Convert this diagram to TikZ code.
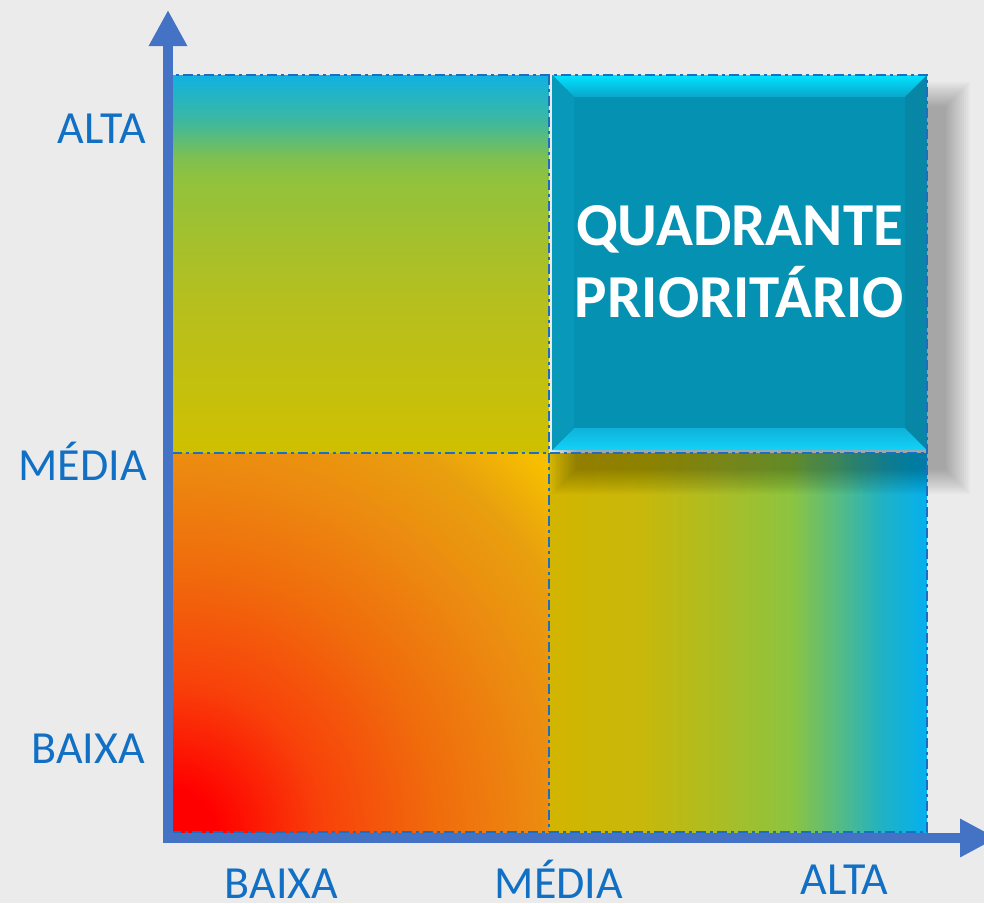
\documentclass[tikz,border=0pt]{standalone}
\usepackage{fontspec}
\setmainfont{Carlito}
\usetikzlibrary{arrows.meta}
\definecolor{bgc}{HTML}{EBEBEB}
\definecolor{axisc}{HTML}{4472C4}
\definecolor{dashc}{HTML}{1B6EC2}
\definecolor{labelc}{HTML}{1170C4}
\definecolor{facec}{HTML}{0591B2}
% top-left vertical
\definecolor{tlA}{HTML}{CFC000}
\definecolor{tlB}{HTML}{B6BF1E}
\definecolor{tlC}{HTML}{92C23C}
\definecolor{tlD}{HTML}{7EC050}
\definecolor{tlE}{HTML}{3CB8A0}
\definecolor{tlF}{HTML}{10B2E2}
\pgfdeclareverticalshading{tlshade}{100bp}{color(0bp)=(tlA); color(25bp)=(tlA); color(45bp)=(tlB); color(61bp)=(tlC); color(64bp)=(tlD); color(69bp)=(tlE); color(75bp)=(tlF); color(100bp)=(tlF)}
% bottom-right horizontal
\definecolor{brA}{HTML}{D2B500}
\definecolor{brB}{HTML}{C8B80A}
\definecolor{brC}{HTML}{B0BC20}
\definecolor{brD}{HTML}{8CC440}
\definecolor{brE}{HTML}{58BC80}
\definecolor{brF}{HTML}{20B2C4}
\definecolor{brG}{HTML}{04B0F0}
\pgfdeclarehorizontalshading{brshade}{100bp}{color(0bp)=(brA); color(25bp)=(brA); color(37bp)=(brB); color(46bp)=(brC); color(57bp)=(brD); color(63bp)=(brE); color(69bp)=(brF); color(75bp)=(brG); color(100bp)=(brG)}
% bottom-left radial from corner
\definecolor{blA}{HTML}{FF0000}
\definecolor{blB}{HTML}{F8420A}
\definecolor{blC}{HTML}{F06A0C}
\definecolor{blD}{HTML}{EC8A10}
\definecolor{blE}{HTML}{E8A00E}
\definecolor{blF}{HTML}{F6BE00}
\pgfdeclareradialshading{blshade}{\pgfpointorigin}{color(0bp)=(blA); color(2bp)=(blA); color(7bp)=(blB); color(12bp)=(blC); color(17bp)=(blD); color(21bp)=(blE); color(24bp)=(blF); color(50bp)=(blF)}
% bevels
\definecolor{bvTa}{HTML}{00E2FF}
\definecolor{bvTb}{HTML}{0AA6CA}
\definecolor{bvBa}{HTML}{0FB2DA}
\definecolor{bvBb}{HTML}{12D2F8}
\definecolor{bvL}{HTML}{0898BA}
\definecolor{bvR}{HTML}{0786A6}
\tikzset{
  axisline/.style={draw=axisc, line width=10pt},
  quadline/.style={draw=dashc, line width=2.5pt, dash pattern=on 10pt off 4pt on 3pt off 4pt},
  lbl/.style={text=labelc, font=\fontsize{46}{50}\selectfont, inner sep=0pt},
  ttl/.style={text=white, font=\bfseries\fontsize{61}{70}\selectfont, inner sep=0pt, anchor=base}
}
\begin{document}
\begin{tikzpicture}[x=1pt,y=-1pt]
\fill[bgc] (0,0) rectangle (984,903);
\useasboundingbox (0,0) rectangle (984,903);
\clip (0,0) rectangle (984,903);
% quadrants
\shade[shading=tlshade] (172,75) rectangle (549,453);
\shade[shading=brshade] (549,453) rectangle (927,832);
\begin{scope}
\clip (172,453) rectangle (549,832);
\shade[shading=blshade] (172,832) circle (540);
\end{scope}
% shadow of the priority box
\foreach \d in {0,2,...,24}{
  \fill[black, opacity=0.024] (576-\d,106-\d) rectangle (946+\d,470+\d);
}
% priority box with bevel
\fill[facec] (552,75) rectangle (927,450);
\shade[top color=bvTa, bottom color=bvTb] (552,75) -- (927,75) -- (905,97) -- (574,97) -- cycle;
\shade[top color=bvBa, bottom color=bvBb] (552,450) -- (927,450) -- (905,428) -- (574,428) -- cycle;
\fill[bvL] (552,75) -- (574,97) -- (574,428) -- (552,450) -- cycle;
\fill[bvR] (927,75) -- (905,97) -- (905,428) -- (927,450) -- cycle;
\node[ttl] (t1) at (739.5,245) {QUADRANTE};
\node[ttl] (t2) at (739.5,317) {PRIORITÁRIO};
% dash-dot grid
\draw[quadline] (172,75) rectangle (927,832);
\draw[quadline] (549,75) -- (549,832);
\draw[quadline] (172,453) -- (927,453);
% axes
\coordinate (ybot) at (168,843);
\coordinate (ytop) at (168,10);
\coordinate (xleft) at (163,838);
\coordinate (xright) at (997,838);
\draw[axisline, -{Triangle[length=36pt,width=36pt]}] (ybot) -- (ytop);
\draw[axisline, -{Triangle[length=37pt,width=36pt]}] (xleft) -- (xright);
% labels
\node[lbl, anchor=base east] (ya) at (146,143) {ALTA};
\node[lbl, anchor=base east] (ym) at (147,480) {MÉDIA};
\node[lbl, anchor=base east] (yb) at (145,763) {BAIXA};
\node[lbl, anchor=base] (xb) at (281.5,898) {BAIXA};
\node[lbl, anchor=base] (xm) at (559,898) {MÉDIA};
\node[lbl, anchor=base] (xa) at (844.5,894) {ALTA};
\end{tikzpicture}
\end{document}
